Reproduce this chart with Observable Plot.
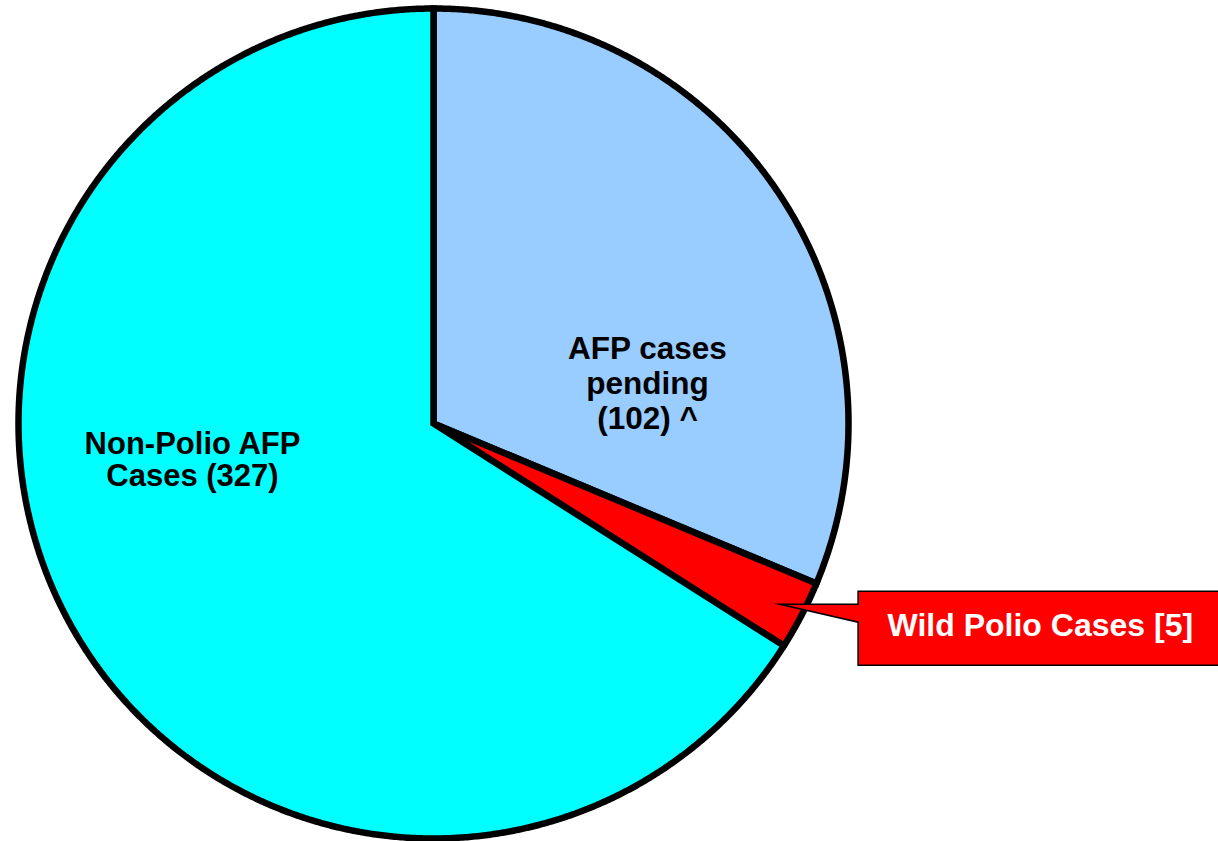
<!DOCTYPE html>
<html>
<head>
<meta charset="utf-8">
<script src="https://cdn.jsdelivr.net/npm/d3@7"></script>
<script src="https://cdn.jsdelivr.net/npm/@observablehq/plot@0.6"></script>
<style>
  html, body { margin: 0; padding: 0; background: #fff; }
  #chart svg { display: block; }
</style>
</head>
<body>
<div id="chart"></div>
<script>
// ---- data ----
const categories = ["AFP cases pending", "Wild Polio Cases", "Non-Polio AFP Cases"];
const caseCounts = [102, 5, 327];               // counts printed in the labels
const sliceShares = [31.3, 2.7, 66.0];          // percent of the circle
const labelTexts = ["AFP cases\npending\n(102) ^", "Wild Polio Cases [5]", "Non-Polio AFP\nCases (327)"];
const sliceColors = ["#99CCFF", "#FF0000", "#00FFFF"];

// ---- layout ----
const W = 1218, H = 841;
const cx = 433, cy = 423, R = 415;
const labelOffsets = [ {dx: 214, dy: -41, lh: 1.11, fs: 31.5}, null, {dx: -241, dy: 36, lh: 1.04, fs: 31} ];

const table = categories.map((c, i) => ({category: c, count: caseCounts[i], share: sliceShares[i], label: labelTexts[i], color: sliceColors[i]}));
const arcs = d3.pie().sort(null).value(d => d.share)(table);

function pt(a, r) { return {x: cx + r * Math.sin(a), y: cy - r * Math.cos(a)}; }

const sliceMarks = arcs.map(a => {
  const pts = [{x: cx, y: cy}];
  const n = Math.max(2, Math.ceil((a.endAngle - a.startAngle) / 0.005));
  for (let k = 0; k <= n; k++) pts.push(pt(a.startAngle + (a.endAngle - a.startAngle) * k / n, R));
  return Plot.line(pts, {x: "x", y: "y", curve: "linear-closed", fill: a.data.color, stroke: "black",
    strokeWidth: 6.5, strokeLinejoin: "miter", strokeMiterlimit: 10});
});

// callout for the small slice
const wild = arcs[1];
const tip = pt((wild.startAngle + wild.endAngle) / 2, R * 0.942);
const bx = tip.x + 78, bTop = tip.y - 13, bBot = tip.y + 61, bRight = W + 10;
const callout = [
  {x: tip.x, y: tip.y}, {x: bx, y: tip.y}, {x: bx, y: bTop}, {x: bRight, y: bTop},
  {x: bRight, y: bBot}, {x: bx, y: bBot}, {x: bx, y: tip.y + 18}
];

const textData = arcs.map((a, i) => {
  if (i === 1) return {text: a.data.label, x: (bx + W) / 2 + 2, y: (bTop + bBot) / 2 - 3, fill: "white", lh: 1, fs: 32};
  const o = labelOffsets[i];
  return {text: a.data.label, x: cx + o.dx, y: cy + o.dy, fill: "black", lh: o.lh, fs: o.fs};
});

const marks = [
  ...sliceMarks,
  Plot.line(callout, {x: "x", y: "y", curve: "linear-closed", fill: "#FF0000", stroke: "black", strokeWidth: 1.6,
    strokeLinejoin: "miter", strokeMiterlimit: 10}),
  ...textData.map(t => Plot.text([t], {x: "x", y: "y", text: "text", fill: t.fill, fontSize: t.fs, fontWeight: "bold",
    fontFamily: "Liberation Sans, Arial, sans-serif", lineHeight: t.lh, textAnchor: "middle"}))
];

const chart = Plot.plot({
  width: W, height: H, margin: 0,
  x: {domain: [0, W], range: [0, W], axis: null},
  y: {domain: [0, H], range: [0, H], axis: null},
  style: {background: "white", overflow: "hidden"},
  marks
});
document.getElementById("chart").appendChild(chart);
</script>
</body>
</html>
